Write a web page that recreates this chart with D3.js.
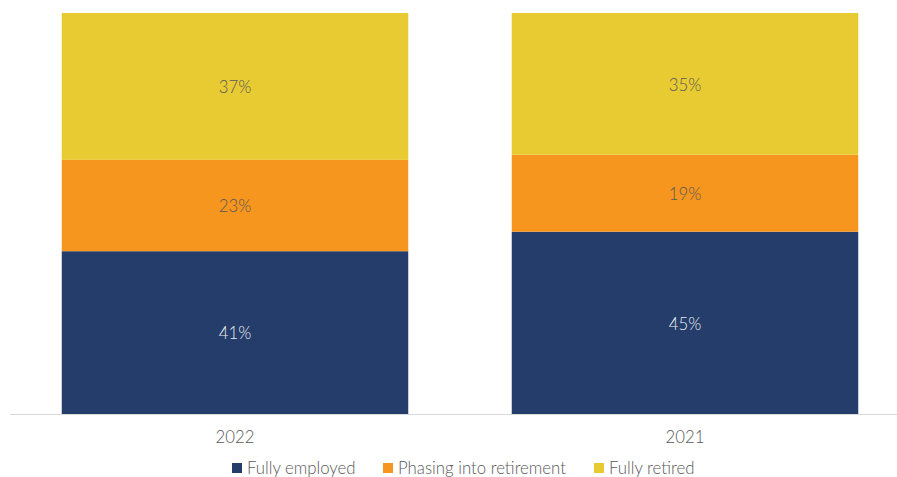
<!DOCTYPE html>
<html>
<head>
<meta charset="utf-8">
<script src="https://cdn.jsdelivr.net/npm/d3@7"></script>
<style>
  html, body { margin: 0; padding: 0; background: #fff; }
  svg { display: block; font-family: Lato, "Open Sans", sans-serif; font-weight: 300; }
</style>
</head>
<body>
<svg id="chart" width="897" height="477"></svg>
<script>
// Retirement status by survey year (percent of respondents)
const years = ["2022", "2021"];
const seriesNames = ["Fully employed", "Phasing into retirement", "Fully retired"];
const fullyEmployed = [41, 45];
const phasing = [23, 19];
const fullyRetired = [37, 35];
const colors = ["#253d6b", "#f7961e", "#e8ca33"];
const labelColors = ["#e8ebf2", "#595959", "#595959"];

const rows = years.map((y, i) => ({
  year: y,
  "Fully employed": fullyEmployed[i],
  "Phasing into retirement": phasing[i],
  "Fully retired": fullyRetired[i]
}));

const svg = d3.select("#chart");
const W = 897;
const baseY = 414, topY = 13;
const fs = 16.8;

const x = d3.scaleBand().domain(years).range([10, 910])
  .paddingInner(0.23).paddingOuter(0.115);
const y = d3.scaleLinear().domain([0, 1]).range([baseY, topY]);

// 100% stacked: each bar normalised to its own total
const stacked = d3.stack().keys(seriesNames).offset(d3.stackOffsetExpand)(rows);

const layers = svg.append("g").selectAll("g")
  .data(stacked).join("g")
  .attr("fill", (d, i) => colors[i]);

layers.selectAll("rect")
  .data(d => d.map(p => ({ p, key: d.key })))
  .join("rect")
  .attr("x", d => x(d.p.data.year))
  .attr("width", x.bandwidth())
  .attr("y", d => y(d.p[1]))
  .attr("height", d => y(d.p[0]) - y(d.p[1]));

layers.each(function (layer, i) {
  d3.select(this).selectAll("text")
    .data(layer)
    .join("text")
    .attr("x", d => x(d.data.year) + x.bandwidth() / 2)
    .attr("y", d => (y(d[0]) + y(d[1])) / 2 + 1)
    .attr("dy", "0.35em")
    .attr("text-anchor", "middle")
    .attr("font-size", fs)
    .attr("fill", labelColors[i])
    .text(d => d.data[layer.key] + "%");
});

// baseline axis
svg.append("line")
  .attr("x1", 10).attr("x2", W)
  .attr("y1", baseY + 0.5).attr("y2", baseY + 0.5)
  .attr("stroke", "#d9d9d9").attr("stroke-width", 1);

const xAxis = d3.axisBottom(x).tickSize(0).tickPadding(0);
const ax = svg.append("g").attr("transform", `translate(0,${baseY})`).call(xAxis);
ax.select(".domain").remove();
ax.selectAll("text")
  .attr("y", 23).attr("dy", "0.35em")
  .attr("font-size", fs).attr("font-family", "Lato, sans-serif")
  .attr("font-weight", 300)
  .attr("fill", "#595959");

// legend
const legendX = [232, 383, 594];
const legend = svg.append("g");
seriesNames.forEach((name, i) => {
  legend.append("rect")
    .attr("x", legendX[i]).attr("y", 463)
    .attr("width", 10).attr("height", 10)
    .attr("fill", colors[i]);
  legend.append("text")
    .attr("x", legendX[i] + 15).attr("y", 468)
    .attr("dy", "0.35em")
    .attr("font-size", fs)
    .attr("fill", "#595959")
    .text(name);
});
</script>
</body>
</html>
